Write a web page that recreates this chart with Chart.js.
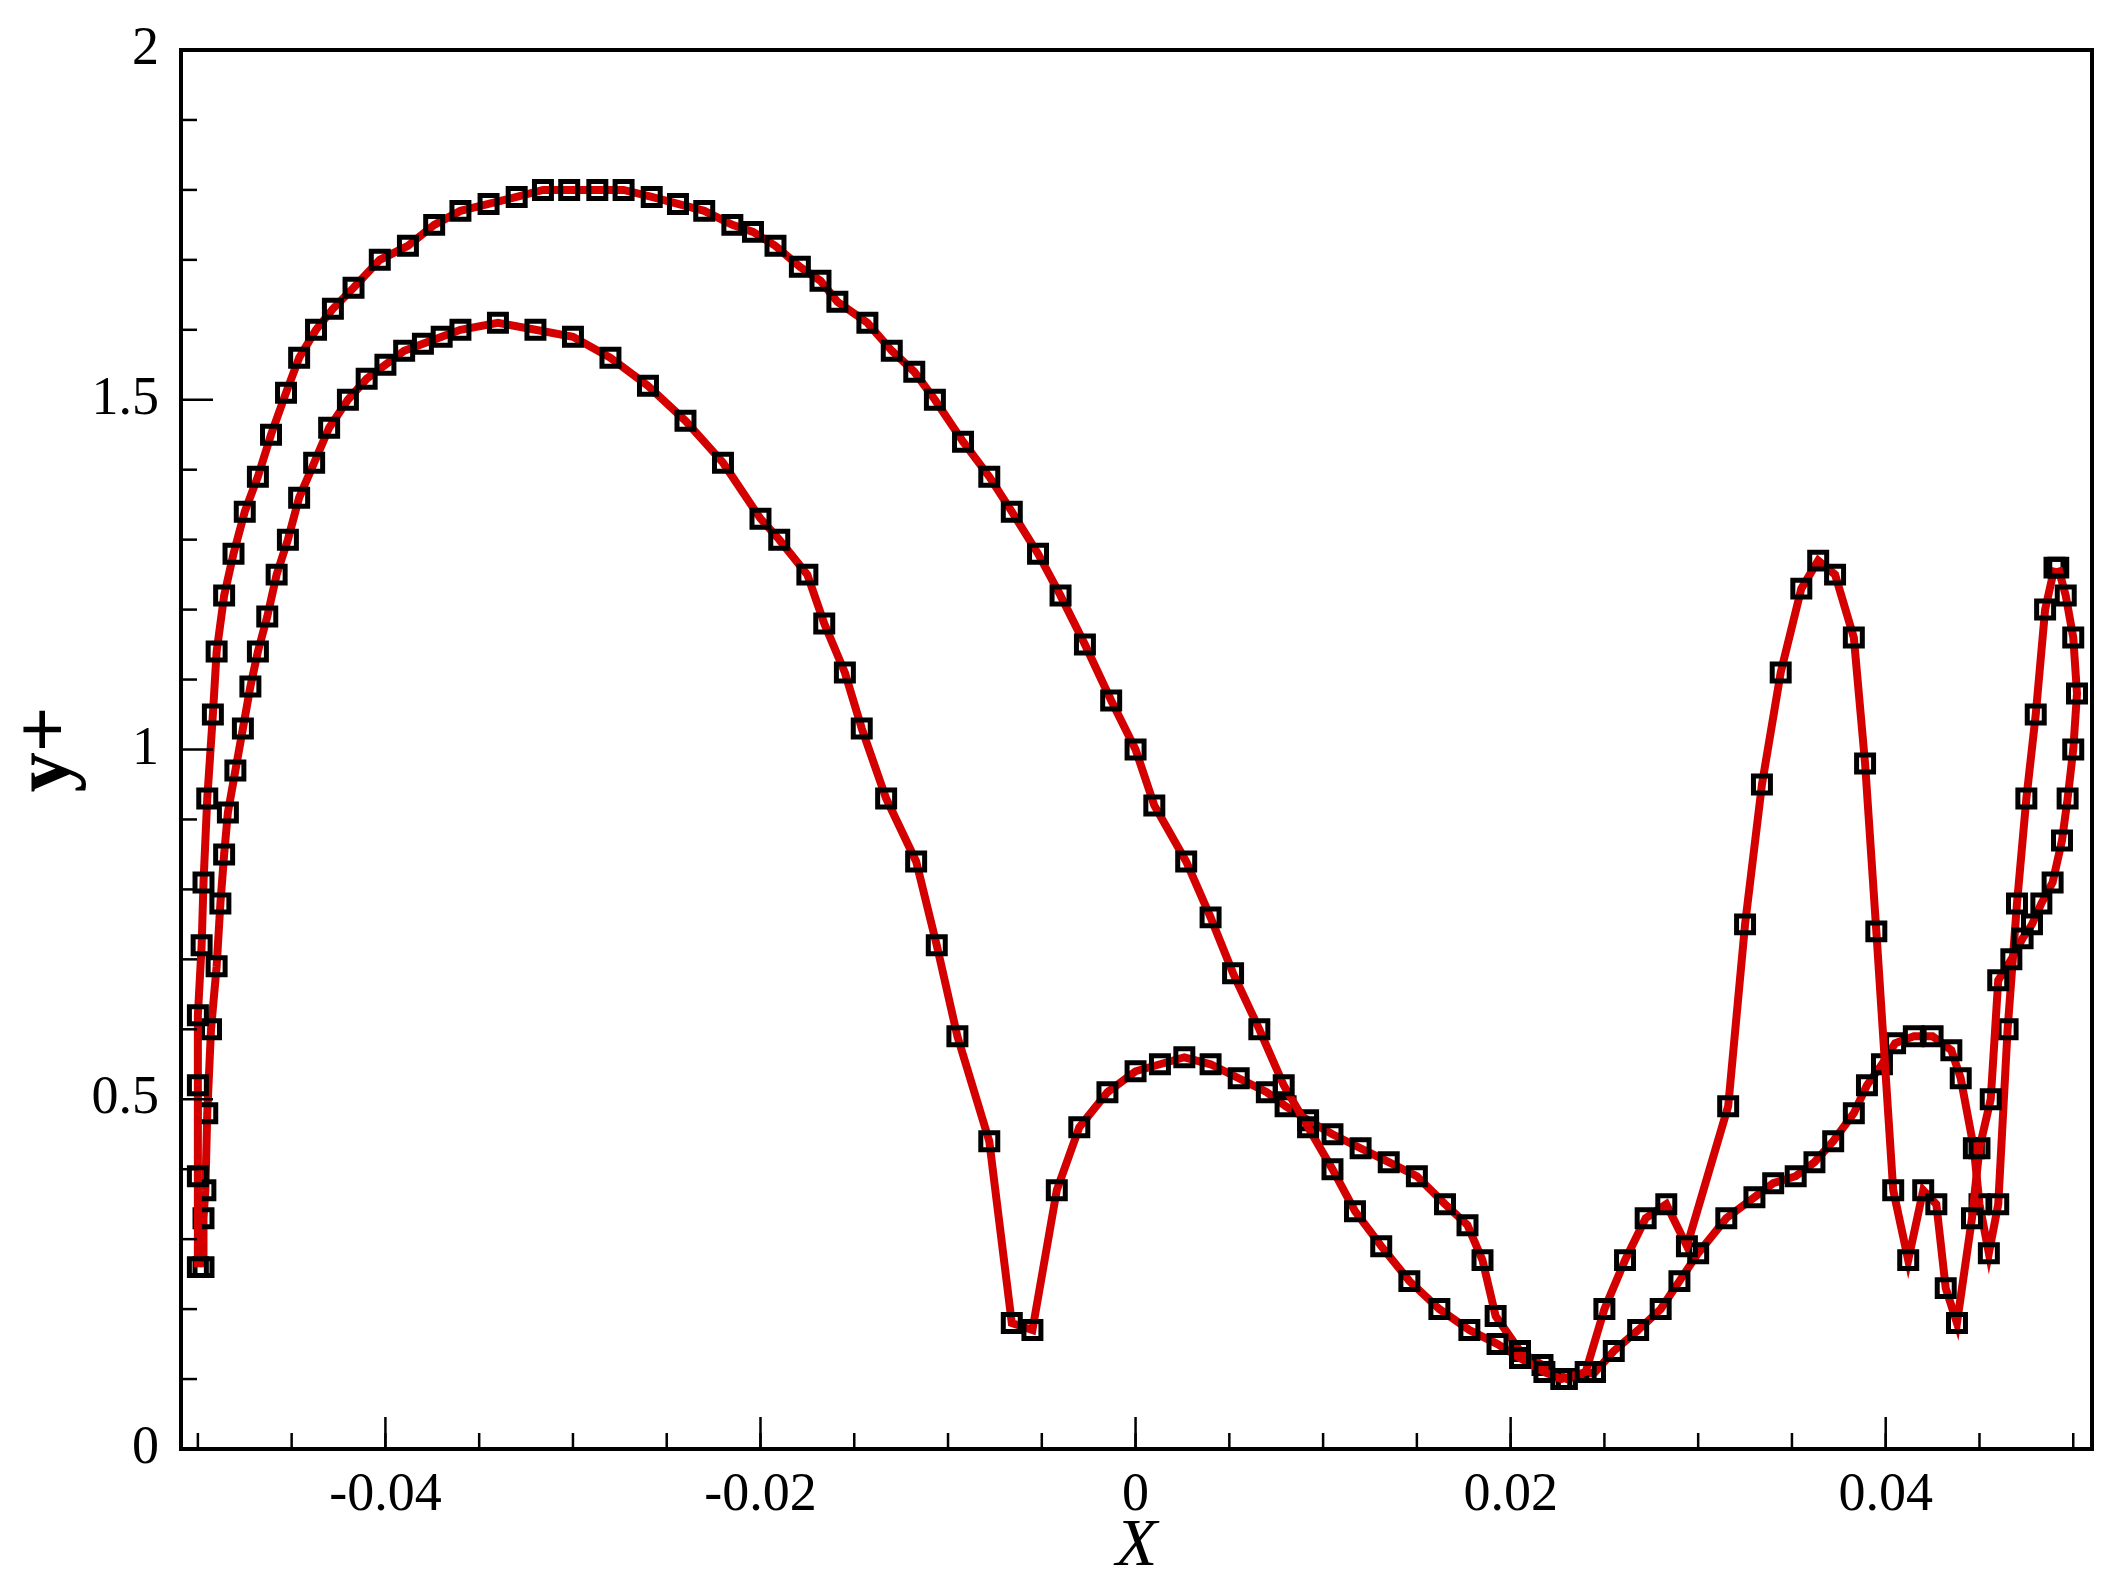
<!DOCTYPE html>
<html><head><meta charset="utf-8">
<script src="https://cdn.jsdelivr.net/npm/chart.js@4"></script>
<style>html,body{margin:0;padding:0;background:#fff}#w{width:2120px;height:1588px}</style>
</head><body><div id="w"><canvas id="c"></canvas></div>
<script>
const upperX=[-0.05,-0.05,-0.05,-0.05,-0.0498,-0.0497,-0.0495,-0.0492,-0.049,-0.0486,-0.0481,-0.0475,-0.0468,-0.0461,-0.0453,-0.0446,-0.0437,-0.0428,-0.0417,-0.0403,-0.0388,-0.0374,-0.036,-0.0345,-0.033,-0.0316,-0.0302,-0.0287,-0.0273,-0.0258,-0.0244,-0.023,-0.0215,-0.0204,-0.0192,-0.0179,-0.0168,-0.0159,-0.0143,-0.013,-0.0118,-0.0107,-0.0092,-0.0078,-0.0066,-0.0052,-0.004,-0.0027,-0.0013,0,0.001,0.0027,0.004,0.0052,0.0066,0.0079,0.0092,0.0105,0.0117,0.0131,0.0146,0.0162,0.0178,0.0193,0.0205,0.0218,0.0227,0.024,0.025,0.0261,0.0272,0.0283,0.0294,0.0316,0.0325,0.0334,0.0344,0.0355,0.0364,0.0373,0.0383,0.0389,0.0395,0.0404,0.0412,0.042,0.0427,0.0432,0.0438,0.0446,0.045,0.0456,0.046,0.0467,0.0473,0.0478,0.0483,0.0489,0.0494,0.0497,0.05,0.0502,0.05,0.0496,0.0492];
const upperY=[0.26,0.39,0.52,0.62,0.72,0.81,0.93,1.05,1.14,1.22,1.28,1.34,1.39,1.45,1.51,1.56,1.6,1.63,1.66,1.7,1.72,1.75,1.77,1.78,1.79,1.8,1.8,1.8,1.8,1.79,1.78,1.77,1.75,1.74,1.72,1.69,1.67,1.64,1.61,1.57,1.54,1.5,1.44,1.39,1.34,1.28,1.22,1.15,1.07,1.0,0.92,0.84,0.76,0.68,0.6,0.52,0.46,0.4,0.34,0.29,0.24,0.2,0.17,0.15,0.13,0.11,0.1,0.11,0.2,0.27,0.33,0.35,0.29,0.49,0.75,0.95,1.11,1.23,1.27,1.25,1.16,0.98,0.74,0.37,0.27,0.37,0.35,0.23,0.18,0.33,0.43,0.5,0.67,0.7,0.73,0.75,0.78,0.81,0.87,0.93,1.0,1.08,1.16,1.22,1.26];
const lowerX=[-0.0497,-0.0497,-0.0496,-0.0495,-0.0493,-0.049,-0.0488,-0.0486,-0.0484,-0.048,-0.0476,-0.0472,-0.0468,-0.0463,-0.0458,-0.0452,-0.0446,-0.0438,-0.043,-0.042,-0.041,-0.04,-0.039,-0.038,-0.037,-0.036,-0.034,-0.032,-0.03,-0.028,-0.026,-0.024,-0.022,-0.02,-0.019,-0.0175,-0.0166,-0.0155,-0.0146,-0.0133,-0.0117,-0.0106,-0.0095,-0.0078,-0.0066,-0.0055,-0.0042,-0.003,-0.0015,0,0.0013,0.0026,0.004,0.0055,0.007,0.008,0.0092,0.0105,0.012,0.0135,0.015,0.0165,0.0177,0.0185,0.0192,0.0205,0.0217,0.023,0.0245,0.0255,0.0268,0.028,0.029,0.03,0.0315,0.033,0.034,0.0352,0.0362,0.0372,0.0383,0.039,0.0398,0.0405,0.0415,0.0425,0.0435,0.044,0.0447,0.045,0.0455,0.046,0.0465,0.047,0.0475,0.048,0.0485,0.049];
const lowerY=[0.26,0.33,0.37,0.48,0.6,0.69,0.78,0.85,0.91,0.97,1.03,1.09,1.14,1.19,1.25,1.3,1.36,1.41,1.46,1.5,1.53,1.55,1.57,1.58,1.59,1.6,1.61,1.6,1.59,1.56,1.52,1.47,1.41,1.33,1.3,1.25,1.18,1.11,1.03,0.93,0.84,0.72,0.59,0.44,0.18,0.17,0.37,0.46,0.51,0.54,0.55,0.56,0.55,0.53,0.51,0.49,0.47,0.45,0.43,0.41,0.39,0.35,0.32,0.27,0.19,0.14,0.12,0.1,0.11,0.14,0.17,0.2,0.24,0.28,0.33,0.36,0.38,0.39,0.41,0.44,0.48,0.52,0.55,0.58,0.59,0.59,0.57,0.53,0.43,0.35,0.28,0.35,0.6,0.78,0.93,1.05,1.2,1.26];
const xTicks=[-0.04,-0.02,0,0.02,0.04];
const xTickLabels=['-0.04','-0.02','0','0.02','0.04'];
const yTicks=[0,0.5,1,1.5,2];
const yTickLabels=['0','0.5','1','1.5','2'];
const xMinor=[-0.05,-0.045,-0.04,-0.035,-0.03,-0.025,-0.02,-0.015,-0.01,-0.005,0,0.005,0.01,0.015,0.02,0.025,0.03,0.035,0.04,0.045,0.05];
const yMinor=[0.1,0.2,0.3,0.4,0.6,0.7,0.8,0.9,1.1,1.2,1.3,1.4,1.6,1.7,1.8,1.9];

const mk=(xs,ys)=>xs.map((x,i)=>({x:x,y:ys[i]}));
const ds=(d)=>({data:d,showLine:true,borderColor:'#d40000',borderWidth:8,pointStyle:'rect',pointRadius:12,pointBorderColor:'#000',pointBorderWidth:5,pointBackgroundColor:'rgba(0,0,0,0)',tension:0});
const frame={id:'frame',afterDraw(ch){const c=ch.ctx,a=ch.chartArea,xs=ch.scales.x,ys=ch.scales.y;c.save();c.strokeStyle='#000';c.lineWidth=4;c.strokeRect(a.left,a.top,a.right-a.left,a.bottom-a.top);c.lineWidth=2.5;
xMinor.forEach(v=>{const p=xs.getPixelForValue(v);c.beginPath();c.moveTo(p,a.bottom);c.lineTo(p,a.bottom-16);c.stroke();});
xTicks.forEach(v=>{const p=xs.getPixelForValue(v);c.beginPath();c.moveTo(p,a.bottom);c.lineTo(p,a.bottom-32);c.stroke();});
yMinor.forEach(v=>{const p=ys.getPixelForValue(v);c.beginPath();c.moveTo(a.left,p);c.lineTo(a.left+16,p);c.stroke();});
yTicks.forEach(v=>{const p=ys.getPixelForValue(v);c.beginPath();c.moveTo(a.left,p);c.lineTo(a.left+32,p);c.stroke();});
c.restore();}};
const font={family:'"Liberation Serif"',size:54};
new Chart(document.getElementById('c'),{type:'scatter',data:{datasets:[ds(mk(upperX,upperY)),ds(mk(lowerX,lowerY))]},
options:{responsive:true,maintainAspectRatio:false,animation:false,layout:{padding:{top:50,right:28,left:0,bottom:0}},
plugins:{legend:{display:false},tooltip:{enabled:false}},
scales:{x:{type:'linear',min:-0.0509,max:0.051,grid:{display:false},border:{display:false},
afterBuildTicks:s=>{s.ticks=xTicks.map(v=>({value:v}));},
ticks:{font:font,color:'#000',padding:6,callback:(v)=>xTickLabels[xTicks.indexOf(v)]},
afterFit:s=>{s.height=139;},
title:{display:true,text:'X',font:{family:'"Liberation Serif"',size:68,style:'italic'},color:'#000',padding:{top:0,bottom:0}}},
y:{min:0,max:2,grid:{display:false},border:{display:false},
afterBuildTicks:s=>{s.ticks=yTicks.map(v=>({value:v}));},
ticks:{font:font,color:'#000',padding:14,callback:(v)=>yTickLabels[yTicks.indexOf(v)]},
afterFit:s=>{s.width=181;},
title:{display:true,text:'y+',font:{family:'"Liberation Serif"',size:80,weight:'bold'},color:'#000',padding:{top:0,bottom:4}}}}},
plugins:[frame]});
</script></body></html>
